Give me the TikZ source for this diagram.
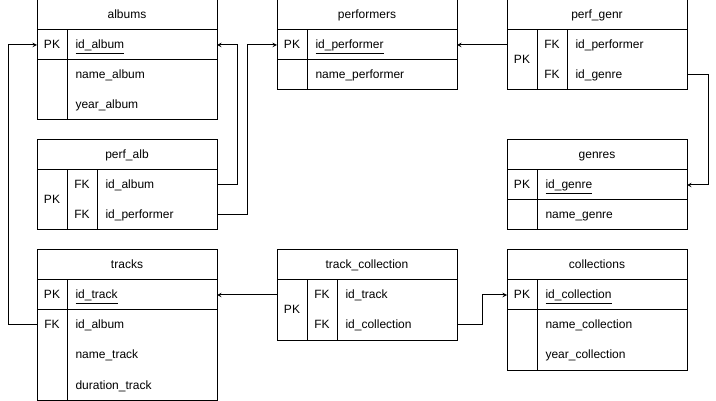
\documentclass[tikz,border=0pt]{standalone}
\usepackage{fontspec}
\setmainfont{Liberation Sans}
\usepackage{tikz}
\usetikzlibrary{positioning,arrows}
\tikzstyle{title} = [rectangle, draw=black, minimum width=180pt, minimum height=30pt, inner sep=0pt, outer sep=0pt, text height=10pt, text depth=2pt]
\tikzstyle{block} = [rectangle, draw=black, minimum width=180pt, inner sep=0pt, outer sep=0pt]
\tikzstyle{keycol} = [rectangle, draw=black, minimum width=30pt, inner sep=0pt, outer sep=0pt, anchor=north west, text height=10pt, text depth=2pt]
\tikzstyle{key} = [inner sep=0pt, text height=10pt, text depth=2pt]
\tikzstyle{field} = [anchor=west, inner sep=0pt, text height=10pt, text depth=2pt]
\tikzstyle{arrow} = [->,>=stealth]

\begin{document}
\fontsize{12pt}{14pt}\selectfont
\begin{tikzpicture}[x=1pt, y=-1pt, line width=1pt]
\useasboundingbox (0,0) rectangle (716,401);

% albums
\node (albums) [title] at (127,15) {albums};
\node (albumspk) [block, minimum height=30pt, below=0pt of albums] {};
\node (albumsrest) [block, minimum height=60pt, below=0pt of albumspk] {};
\node [keycol, minimum height=30pt] at (albumspk.north west) {PK};
\node [keycol, minimum height=60pt] at (albumsrest.north west) {};
\node (albumsid) [field] at ([xshift=38pt]albumspk.west) {\underline{id\_album}};
\node (albumsname) [field] at ([xshift=38pt, yshift=15pt]albumsrest.west) {name\_album};
\node (albumsyear) [field] at ([xshift=38pt, yshift=-15pt]albumsrest.west) {year\_album};

% performers
\node (performers) [title] at (367,15) {performers};
\node (performerspk) [block, minimum height=30pt, below=0pt of performers] {};
\node (performersrest) [block, minimum height=30pt, below=0pt of performerspk] {};
\node [keycol, minimum height=30pt] at (performerspk.north west) {PK};
\node [keycol, minimum height=30pt] at (performersrest.north west) {};
\node (performersid) [field] at ([xshift=38pt]performerspk.west) {\underline{id\_performer}};
\node (performersname) [field] at ([xshift=38pt]performersrest.west) {name\_performer};

% perf_genr
\node (perfgenr) [title] at (597,15) {perf\_genr};
\node (perfgenrbody) [block, minimum height=60pt, below=0pt of perfgenr] {};
\node [keycol, minimum height=60pt] at (perfgenrbody.north west) {PK};
\node [keycol, minimum height=60pt] at ([xshift=30pt]perfgenrbody.north west) {};
\node [key] at ([xshift=45pt, yshift=15pt]perfgenrbody.west) {FK};
\node [key] at ([xshift=45pt, yshift=-15pt]perfgenrbody.west) {FK};
\node (perfgenrperf) [field] at ([xshift=68pt, yshift=15pt]perfgenrbody.west) {id\_performer};
\node (perfgenrgenre) [field] at ([xshift=68pt, yshift=-15pt]perfgenrbody.west) {id\_genre};

% perf_alb
\node (perfalb) [title] at (127,155) {perf\_alb};
\node (perfalbbody) [block, minimum height=60pt, below=0pt of perfalb] {};
\node [keycol, minimum height=60pt] at (perfalbbody.north west) {PK};
\node [keycol, minimum height=60pt] at ([xshift=30pt]perfalbbody.north west) {};
\node [key] at ([xshift=45pt, yshift=15pt]perfalbbody.west) {FK};
\node [key] at ([xshift=45pt, yshift=-15pt]perfalbbody.west) {FK};
\node (perfalbalbum) [field] at ([xshift=68pt, yshift=15pt]perfalbbody.west) {id\_album};
\node (perfalbperf) [field] at ([xshift=68pt, yshift=-15pt]perfalbbody.west) {id\_performer};

% genres
\node (genres) [title] at (597,155) {genres};
\node (genrespk) [block, minimum height=30pt, below=0pt of genres] {};
\node (genresrest) [block, minimum height=30pt, below=0pt of genrespk] {};
\node [keycol, minimum height=30pt] at (genrespk.north west) {PK};
\node [keycol, minimum height=30pt] at (genresrest.north west) {};
\node (genresid) [field] at ([xshift=38pt]genrespk.west) {\underline{id\_genre}};
\node (genresname) [field] at ([xshift=38pt]genresrest.west) {name\_genre};

% tracks
\node (tracks) [title] at (127,265) {tracks};
\node (trackspk) [block, minimum height=30pt, below=0pt of tracks] {};
\node (tracksrest) [block, minimum height=90pt, below=0pt of trackspk] {};
\node [keycol, minimum height=30pt] at (trackspk.north west) {PK};
\node [keycol, minimum height=90pt] at (tracksrest.north west) {};
\node [key] at ([xshift=15pt, yshift=30pt]tracksrest.west) {FK};
\node (tracksid) [field] at ([xshift=38pt]trackspk.west) {\underline{id\_track}};
\node (tracksalbum) [field] at ([xshift=38pt, yshift=30pt]tracksrest.west) {id\_album};
\node (tracksname) [field] at ([xshift=38pt]tracksrest.west) {name\_track};
\node (tracksdur) [field] at ([xshift=38pt, yshift=-30pt]tracksrest.west) {duration\_track};

% track_collection
\node (tcol) [title] at (367,265) {track\_collection};
\node (tcolbody) [block, minimum height=60pt, below=0pt of tcol] {};
\node [keycol, minimum height=60pt] at (tcolbody.north west) {PK};
\node [keycol, minimum height=60pt] at ([xshift=30pt]tcolbody.north west) {};
\node [key] at ([xshift=45pt, yshift=15pt]tcolbody.west) {FK};
\node [key] at ([xshift=45pt, yshift=-15pt]tcolbody.west) {FK};
\node (tcoltrack) [field] at ([xshift=68pt, yshift=15pt]tcolbody.west) {id\_track};
\node (tcolcoll) [field] at ([xshift=68pt, yshift=-15pt]tcolbody.west) {id\_collection};

% collections
\node (collections) [title] at (597,265) {collections};
\node (collectionspk) [block, minimum height=30pt, below=0pt of collections] {};
\node (collectionsrest) [block, minimum height=60pt, below=0pt of collectionspk] {};
\node [keycol, minimum height=30pt] at (collectionspk.north west) {PK};
\node [keycol, minimum height=60pt] at (collectionsrest.north west) {};
\node (collectionsid) [field] at ([xshift=38pt]collectionspk.west) {\underline{id\_collection}};
\node (collectionsname) [field] at ([xshift=38pt, yshift=15pt]collectionsrest.west) {name\_collection};
\node (collectionsyear) [field] at ([xshift=38pt, yshift=-15pt]collectionsrest.west) {year\_collection};

% connectors
\draw [arrow] (perfalbalbum -| perfalb.east) -- ++(20,0) |- (albumsid -| albums.east);
\draw [arrow] (perfalbperf -| perfalb.east) -- ++(30,0) |- (performersid -| performers.west);
\draw [arrow] (perfgenrperf -| perfgenr.west) -- (performersid -| performers.east);
\draw [arrow] (perfgenrgenre -| perfgenr.east) -- ++(21,0) |- (genresid -| genres.east);
\draw [arrow] (tracksalbum -| tracks.west) -- ++(-29,0) |- (albumsid -| albums.west);
\draw [arrow] (tcoltrack -| tcol.west) -- (tracksid -| tracks.east);
\draw [arrow] (tcolcoll -| tcol.east) -- ++(25,0) |- (collectionsid -| collections.west);
\end{tikzpicture}
\end{document}
